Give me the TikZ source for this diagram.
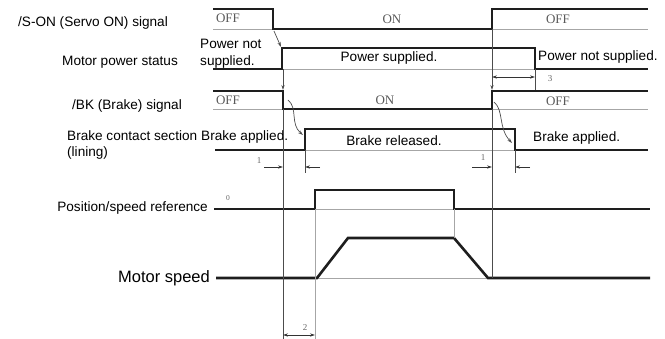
\documentclass[tikz,border=0pt]{standalone}
\usepackage{fontspec}
\setmainfont{Liberation Sans}
\newfontfamily\statefont{Liberation Serif}
\usetikzlibrary{arrows.meta, positioning, calc}

\tikzset{
  sig/.style={line width=2.6pt, color=sigline},
  baseln/.style={line width=0.7pt, color=gray!70},
  tline/.style={line width=0.7pt, color=black!70},
  dimln/.style={line width=0.7pt, color=black!80},
  tip/.style={>={Stealth[length=5pt, width=3.2pt]}},
  lbl/.style={font=\fontsize{13.6}{16.5}\selectfont, inner sep=0pt},
  bigl/.style={font=\fontsize{16.5}{19}\selectfont, inner sep=0pt},
  state/.style={font=\statefont\fontsize{13}{15}\selectfont, color=black!65, inner sep=0pt},
  tiny/.style={font=\statefont\fontsize{9}{10}\selectfont, color=black!60, inner sep=0pt}
}

\begin{document}
\begin{tikzpicture}[x=1pt, y=-1pt, tip]
\definecolor{sigline}{HTML}{1E1E1E}
\useasboundingbox (0,0) rectangle (665,339);

% LAYER 1: Nomes dos sinais
\node[lbl, anchor=west] (nson) at (18,23) {/S-ON (Servo ON) signal};
\node[lbl, anchor=west] (npow) at (62,62) {Motor power status};
\node[lbl, anchor=west] (nbk) at (72,106) {/BK (Brake) signal};
\node[lbl, anchor=west, align=left] (nbrk) at (67,145) {Brake contact section\\(lining)};
\node[lbl, anchor=east] (nref) at (208,208) {Position/speed reference};
\node[bigl, anchor=east] (nspd) at (210,278) {Motor speed};

% LAYER 2: Linhas de base
\draw[baseln] (213,29) -- (273,29);
\draw[baseln] (492,29) -- (648,29);
\draw[baseln] (282,69) -- (535,69);
\draw[baseln] (213,109) -- (283,109);
\draw[baseln] (492,109) -- (648,109);
\draw[baseln] (305,150) -- (515,150);
\draw[baseln] (315,209) -- (454,209);
\draw[baseln] (317,278) -- (488,278);

% LAYER 3: Sinais
\draw[sig] (213,9) -- (273,9) -- (273,29) -- (492,29) -- (492,9) -- (648,9);
\draw[sig] (213,69) -- (282,69) -- (282,48) -- (535,48) -- (535,69) -- (648,69);
\draw[sig] (213,91) -- (283,91) -- (283,109) -- (492,109) -- (492,91) -- (648,91);
\draw[sig] (215,150) -- (305,150) -- (305,129) -- (515,129) -- (515,150) -- (648,150);
\draw[sig] (214,209) -- (315,209) -- (315,190) -- (454,190) -- (454,209) -- (650,209);
\draw[sig] (216,278) -- (317,278) -- (348,238) -- (454,238) -- (488,278) -- (650,278);

% LAYER 4: Estados
\node[state] (s1) at (228,18) {OFF};
\node[state] (s2) at (392,19) {ON};
\node[state] (s3) at (558,19) {OFF};
\node[state] (b1) at (228,100) {OFF};
\node[state] (b2) at (385,100) {ON};
\node[state] (b3) at (558,101) {OFF};
\node[lbl, anchor=west, align=left] (p1) at (200,53.5) {Power not\\supplied.};
\node[lbl] (p2) at (389,58) {Power supplied.};
\node[lbl, anchor=west] (p3) at (538,57) {Power not supplied.};
\node[lbl, anchor=west] (k1) at (201,137) {Brake applied.};
\node[lbl] (k2) at (394,141) {Brake released.};
\node[lbl, anchor=west] (k3) at (533,138) {Brake applied.};
\node[tiny, font=\statefont\fontsize{7.5}{8}\selectfont] (z0) at (228,198) {0};

% LAYER 5: Linhas de tempo e setas
\draw[tline, ->] (274,31) -- (281,47);
\draw[tline, ->] (283,69) -- (283,90);
\draw[tline] (283,109) -- (283,339);
\draw[tline, ->] (492,29) -- (492,90);
\draw[tline] (492,109) -- (492,278);
\draw[tline] (535,69) -- (535,90);
\draw[tline] (305,150) -- (305,173);
\draw[tline] (515,150) -- (515,173);
\draw[baseln] (315,209) -- (315,339);
\draw[baseln] (454,209) -- (454,238);
\draw[tline, ->] (288,100) .. controls (298,108) and (290,124) .. (303,135);
\draw[tline, ->] (494,102) .. controls (504,110) and (498,128) .. (512,143);

% LAYER 6: Cotas
\draw[dimln, <->] (492,77) -- (535,77);
\node[tiny] (d3) at (550,79) {3};
\draw[dimln, ->] (264,167) -- (283,167);
\draw[dimln, ->] (320,167) -- (305,167);
\node[tiny] (d1a) at (259,161) {1};
\draw[dimln, ->] (472,167) -- (492,167);
\draw[dimln, ->] (530,167) -- (515,167);
\node[tiny] (d1b) at (483,158) {1};
\draw[dimln, <->] (283,335) -- (315,335);
\node[tiny] (d2) at (305,328) {2};
\end{tikzpicture}
\end{document}
